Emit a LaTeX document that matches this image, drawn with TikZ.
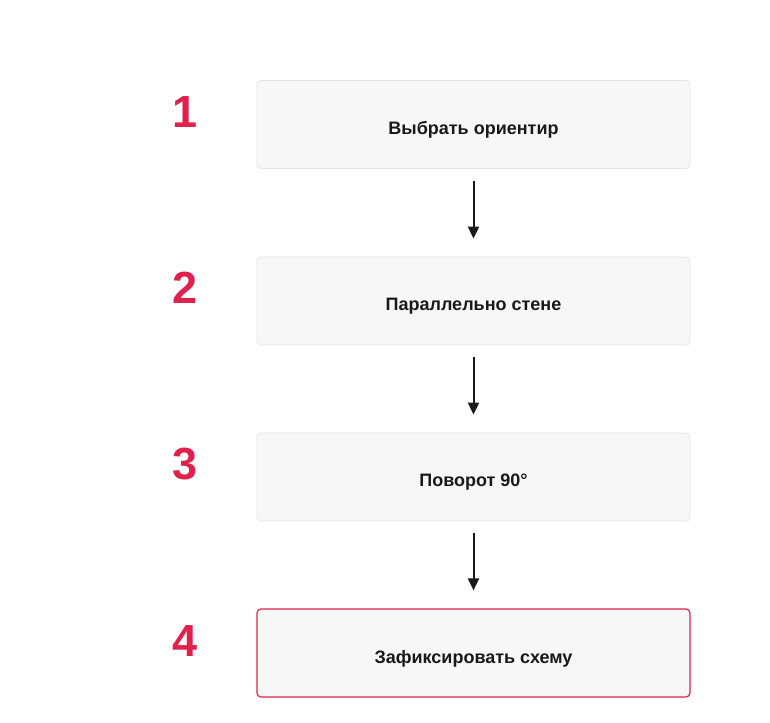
\documentclass[tikz,border=0pt]{standalone}
\usepackage{fontspec}
\setmainfont{Liberation Sans}
\usetikzlibrary{positioning, arrows.meta}
\definecolor{stepRed}{HTML}{E0214C}
\definecolor{boxFill}{HTML}{F7F7F7}
\definecolor{boxLine}{HTML}{E4E4E4}
\tikzset{
  stepbox/.style={draw=boxLine, fill=boxFill, rounded corners=4pt, line width=0.8pt,
    minimum width=433pt, minimum height=88pt, text depth=0pt, font=\bfseries\fontsize{18}{21}\selectfont,
    text=black!90},
  num/.style={text=stepRed, font=\bfseries\fontsize{45}{50}\selectfont},
  flow/.style={-{Triangle[length=12pt,width=11pt]}, line width=2pt, black!90}
}
\begin{document}
\begin{tikzpicture}[x=1pt,y=-1pt]
  \useasboundingbox (0,0) rectangle (770,722);
  % boxes
  \node[stepbox] (s1) at (473.5,124.5) {\raisebox{-7pt}{Выбрать ориентир}};
  \node[stepbox] (s2) at (473.5,301) {\raisebox{-7pt}{Параллельно стене}};
  \node[stepbox] (s3) at (473.5,477) {\raisebox{-7pt}{Поворот 90°}};
  \node[stepbox, draw=stepRed, line width=1.2pt] (s4) at (473.5,653) {\raisebox{-7pt}{Зафиксировать схему}};
  % numbers
  \node[num] (n1) at (185,112) {1};
  \node[num] (n2) at (185,288) {2};
  \node[num] (n3) at (185,464) {3};
  \node[num] (n4) at (185,641) {4};
  % arrows
  \draw[flow] ([yshift=-12pt]s1.south) -- ([yshift=18pt]s2.north);
  \draw[flow] ([yshift=-12pt]s2.south) -- ([yshift=18pt]s3.north);
  \draw[flow] ([yshift=-12pt]s3.south) -- ([yshift=18pt]s4.north);
\end{tikzpicture}
\end{document}
